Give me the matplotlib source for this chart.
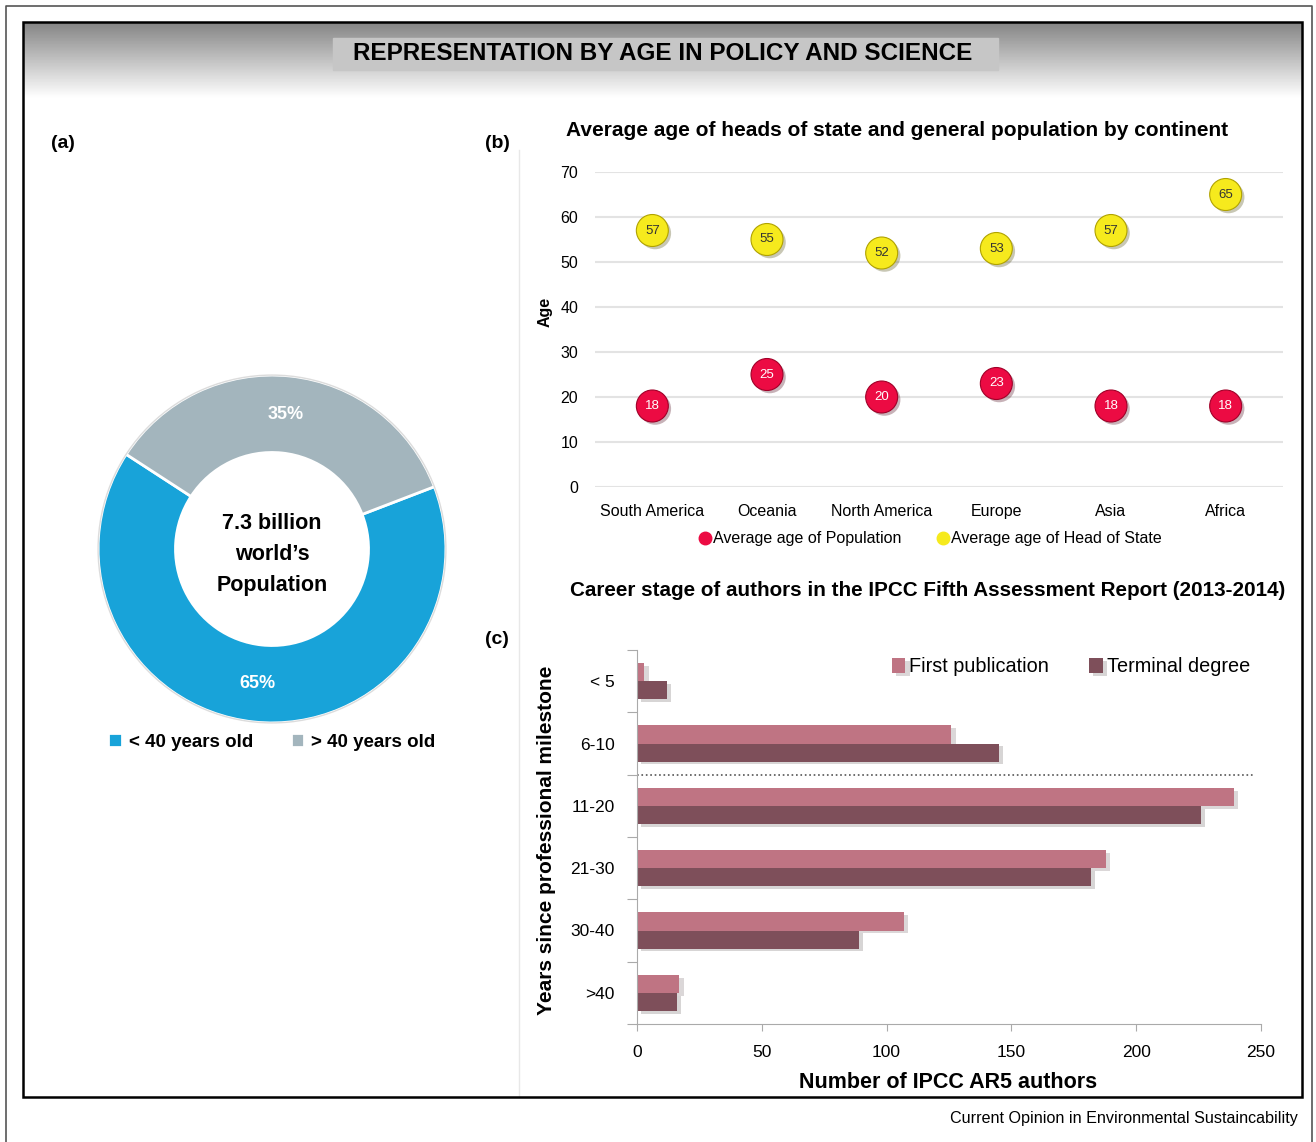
import numpy as np
import matplotlib.pyplot as plt
import matplotlib.patheffects as pe
from matplotlib.patches import Rectangle, Circle
from matplotlib.lines import Line2D

plt.rcParams['font.family'] = ['Liberation Sans', 'DejaVu Sans']

# (a) world population split
pie_labels = ['< 40 years old', '> 40 years old']
pie_values = [65, 35]

# (b) average ages by continent
continents = ['South America', 'Oceania', 'North America', 'Europe', 'Asia', 'Africa']
pop_age = [18, 25, 20, 23, 18, 18]
head_age = [57, 55, 52, 53, 57, 65]

# (c) IPCC AR5 authors by career stage
milestones = ['< 5', '6-10', '11-20', '21-30', '30-40', '>40']
first_pub = [3, 126, 239, 188, 107, 17]
terminal = [12, 145, 226, 182, 89, 16]

W, H = 1316, 1142
BLUE, GREY = '#18a3d9', '#a3b5bd'
RED, YELLOW = '#ec0b43', '#f6ea1d'
PINK, PLUM = '#bf7483', '#7e4f5a'


def box(x0, y0, x1, y1):
    # pixel box (top-left origin) -> figure fraction rect
    return [x0 / W, 1 - y1 / H, (x1 - x0) / W, (y1 - y0) / H]


fig = plt.figure(figsize=(W / 100, H / 100), dpi=100)

# background: frames, gradient header, title
bg = fig.add_axes([0, 0, 1, 1], zorder=-1)
grad = np.linspace(0.52, 1.0, 100).reshape(-1, 1)
bg.imshow(grad, cmap='gray', vmin=0, vmax=1, extent=(23, 1302, 98, 22), aspect='auto')
bg.add_patch(Rectangle((333, 38), 665, 32, color='#c6c6c6', zorder=2))
bg.add_patch(Rectangle((23, 22), 1279, 1075, fill=False, edgecolor='black', lw=1.8, zorder=3))
bg.plot([6, 6, 1312, 1312], [1142, 6, 6, 1142], color='#555555', lw=1.2)
bg.plot([519, 519], [150, 1097], color='#e8e8e8', lw=1)
bg.set_xlim(0, W)
bg.set_ylim(H, 0)
bg.axis('off')
bg.text(663, 54, 'REPRESENTATION BY AGE IN POLICY AND SCIENCE', ha='center', va='center',
        fontsize=17.5, weight='bold', zorder=4)

# panel labels and titles
for lbl, px, py in [('(a)', 63, 143), ('(b)', 497, 143), ('(c)', 497, 640)]:
    fig.text(px / W, 1 - py / H, lbl, ha='center', va='center', fontsize=14, weight='bold')
fig.text(897 / W, 1 - 130 / H, 'Average age of heads of state and general population by continent',
         ha='center', va='center', fontsize=15, weight='bold')
fig.text(928 / W, 1 - 591 / H, 'Career stage of authors in the IPCC Fifth Assessment Report (2013-2014)',
         ha='center', va='center', fontsize=14.9, weight='bold')

# (a) donut
ax_a = fig.add_axes(box(92, 369, 452, 729))
wedges, texts, autotexts = ax_a.pie(pie_values, colors=[BLUE, GREY], startangle=147, counterclock=True,
                                    wedgeprops=dict(width=0.445, edgecolor='white', linewidth=2),
                                    autopct='%d%%', pctdistance=0.775,
                                    textprops=dict(color='white', fontsize=13, weight='bold'))
ax_a.add_patch(Circle((0, 0), 1.0, fill=False, edgecolor='#dcdcdc', lw=1))
ax_a.text(0, -0.03, '7.3 billion\nworld\u2019s\nPopulation', ha='center', va='center',
          fontsize=15.5, weight='bold', linespacing=1.62)
ax_a.set_xlim(-1.035, 1.035)
ax_a.set_ylim(-1.035, 1.035)
fig.legend(wedges, pie_labels, loc='center', bbox_to_anchor=(272 / W, 1 - 742 / H), ncol=2,
           frameon=False, handlelength=0.7, handleheight=0.7, handletextpad=0.4, columnspacing=2.0,
           prop=dict(weight='bold', size=13.5))

# (b) dot chart
ax_b = fig.add_axes(box(595, 172, 1283, 487))
x = np.arange(len(continents))
shadow = [pe.SimplePatchShadow(offset=(2, -2), alpha=0.3), pe.Normal()]
ax_b.scatter(x, pop_age, s=530, c=RED, edgecolors='#a00028', linewidths=0.8, zorder=3,
             clip_on=False, path_effects=shadow)
ax_b.scatter(x, head_age, s=530, c=YELLOW, edgecolors='#b0a200', linewidths=0.8, zorder=3,
             clip_on=False, path_effects=shadow)
for xi, v in zip(x, pop_age):
    ax_b.text(xi, v, str(v), ha='center', va='center', color='white', fontsize=9.5, zorder=4)
for xi, v in zip(x, head_age):
    ax_b.text(xi, v, str(v), ha='center', va='center', color='#333333', fontsize=9.5, zorder=4)
ax_b.set_xlim(-0.5, len(continents) - 0.5)
ax_b.set_ylim(0, 70)
ax_b.set_yticks(range(0, 71, 10))
ax_b.set_xticks(x)
ax_b.set_xticklabels(continents)
ax_b.yaxis.grid(True, color='#e3e3e3', lw=1.5)
ax_b.set_axisbelow(True)
for s in ax_b.spines.values():
    s.set_visible(False)
ax_b.tick_params(axis='x', length=0, pad=12, labelsize=11.5)
ax_b.tick_params(axis='y', length=0, pad=12, labelsize=11.5)
fig.text(545 / W, 1 - 312 / H, 'Age', rotation=90, ha='center', va='center', fontsize=11.5, weight='bold')
b_handles = [Line2D([], [], ls='', marker='o', markersize=9, color=RED),
             Line2D([], [], ls='', marker='o', markersize=9, color=YELLOW)]
fig.legend(b_handles, ['Average age of Population', 'Average age of Head of State'], loc='center',
           bbox_to_anchor=(930 / W, 1 - 539 / H), ncol=2, frameon=False, handlelength=0.8,
           handletextpad=0.1, columnspacing=2.2, fontsize=11.5)

# (c) horizontal bars
ax_c = fig.add_axes(box(637, 650, 1261, 1024))
y = np.arange(len(milestones))
h = 0.29
bar_shadow = [pe.SimplePatchShadow(offset=(3, -2), alpha=0.18), pe.Normal()]
b1 = ax_c.barh(y - h / 2, first_pub, height=h, color=PINK, path_effects=bar_shadow)
b2 = ax_c.barh(y + h / 2, terminal, height=h, color=PLUM, path_effects=bar_shadow)
ax_c.axhline(1.5, xmax=0.99, color='#555555', ls=':', lw=1.2)
ax_c.set_xlim(0, 250)
ax_c.set_ylim(len(milestones) - 0.5, -0.5)
ax_c.set_xticks(range(0, 251, 50))
ax_c.set_yticks(np.arange(-0.5, len(milestones), 1))
ax_c.set_yticklabels([])
ax_c.set_yticks(y, minor=True)
ax_c.set_yticklabels(milestones, minor=True)
ax_c.tick_params(axis='y', which='major', length=7, color='#aaaaaa')
ax_c.tick_params(axis='y', which='minor', length=0, pad=16, labelsize=12.5)
ax_c.tick_params(axis='x', length=5, color='#aaaaaa', pad=10, labelsize=12.5)
for side in ['top', 'right']:
    ax_c.spines[side].set_visible(False)
for side in ['left', 'bottom']:
    ax_c.spines[side].set_color('#aaaaaa')
fig.legend([b1, b2], ['First publication', 'Terminal degree'], loc='center right',
           bbox_to_anchor=(1268 / W, 1 - 667 / H), ncol=2, frameon=False, handlelength=0.7,
           handleheight=0.8, handletextpad=0.2, columnspacing=2.0, fontsize=14.3)
fig.text(948 / W, 1 - 1082 / H, 'Number of IPCC AR5 authors', ha='center', va='center',
         fontsize=15.5, weight='bold')
fig.text(546 / W, 1 - 840 / H, 'Years since professional milestone', rotation=90, ha='center',
         va='center', fontsize=15, weight='bold')

fig.text(1298 / W, 1 - 1119 / H, 'Current Opinion in Environmental Sustaincability', ha='right',
         va='center', fontsize=11.6)

fig.savefig('out.png', dpi=100)
